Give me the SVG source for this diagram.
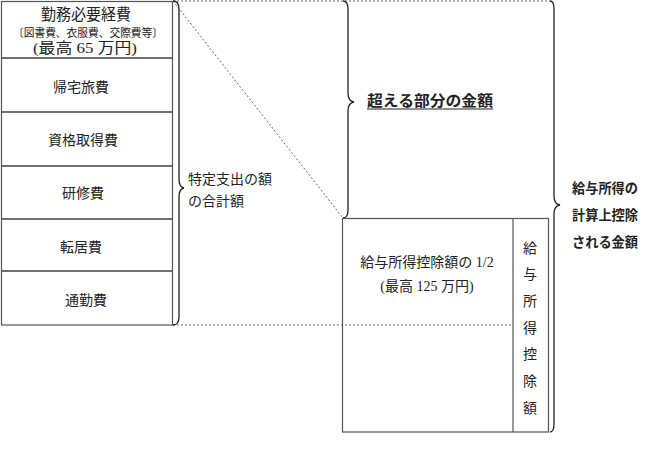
<svg xmlns="http://www.w3.org/2000/svg" width="659" height="460" viewBox="0 0 659 460">
<style>
text{font-family:"Liberation Serif","Noto Sans CJK JP",serif;fill:#222;}
.box{fill:none;stroke:#555;stroke-width:1.2;}
.dot{fill:none;stroke:#666;stroke-width:1;stroke-dasharray:2,2;}
.brace{fill:none;stroke:#222;stroke-width:1.3;}
.c{text-anchor:middle;}
</style>
<rect width="659" height="460" fill="#fff"/>
<g id="connectors">
<line class="dot" x1="173" y1="1" x2="550" y2="1"/>
<line class="dot" x1="173" y1="1" x2="343" y2="218"/>
<line class="dot" x1="173" y1="325" x2="513" y2="325"/>
<path class="brace" d="M173,1 q6,0 6,8 v170 q0,8 5,9 q-5,1 -5,9 v120 q0,8 -6,8"/>
<path class="brace" d="M343,1 q5,0 5,8 v84 q0,8 6,9 q-6,1 -6,9 v99 q0,8 -5,8"/>
<path class="brace" d="M550,1 q4,0 4,8 v187 q0,8 6,9 q-6,1 -6,9 v210 q0,8 -4,8"/>
</g>
<g id="n-kinmu">
<rect class="box" x="1.5" y="1.5" width="171" height="56.5"/>
<text class="c" x="86" y="20" font-size="15.5" textLength="90" lengthAdjust="spacingAndGlyphs">勤務必要経費</text>
<text class="c" x="88" y="37" font-size="11" textLength="150" lengthAdjust="spacingAndGlyphs">〔図書費、衣服費、交際費等〕</text>
<text class="c" x="85" y="53" font-size="14.5" textLength="104" lengthAdjust="spacingAndGlyphs">(最高 65 万円)</text>
</g>
<g id="n-kitaku">
<rect class="box" x="1.5" y="58" width="171" height="54"/>
<text class="c" x="81" y="92" font-size="14">帰宅旅費</text>
</g>
<g id="n-shikaku">
<rect class="box" x="1.5" y="112" width="171" height="54"/>
<text class="c" x="83" y="145" font-size="14">資格取得費</text>
</g>
<g id="n-kenshu">
<rect class="box" x="1.5" y="166" width="171" height="53"/>
<text class="c" x="83" y="198" font-size="14">研修費</text>
</g>
<g id="n-tenkyo">
<rect class="box" x="1.5" y="219" width="171" height="52"/>
<text class="c" x="81" y="252" font-size="14">転居費</text>
</g>
<g id="n-tsukin">
<rect class="box" x="1.5" y="271" width="171" height="54"/>
<text class="c" x="86" y="305" font-size="14">通勤費</text>
</g>
<g id="n-tokutei">
<text x="188" y="184" font-size="14">特定支出の額</text>
<text x="188" y="206" font-size="14">の合計額</text>
</g>
<g id="n-koeru">
<text x="367" y="106" font-size="15" font-weight="bold" textLength="126" lengthAdjust="spacingAndGlyphs">超える部分の金額</text>
<line x1="367" y1="109" x2="493" y2="109" stroke="#222" stroke-width="1"/>
</g>
<g id="n-kyuyo">
<rect class="box" x="342.5" y="218.5" width="206" height="213.5"/>
<line class="box" x1="513" y1="218.5" x2="513" y2="432"/>
<text class="c" x="427" y="267" font-size="14">給与所得控除額の 1/2</text>
<text class="c" x="427" y="291" font-size="14">(最高 125 万円)</text>
</g>
<g id="n-kojo">
<text class="c" x="530" y="253" font-size="14">給</text>
<text class="c" x="530" y="279" font-size="14">与</text>
<text class="c" x="530" y="306" font-size="14">所</text>
<text class="c" x="530" y="333" font-size="14">得</text>
<text class="c" x="530" y="359" font-size="14">控</text>
<text class="c" x="530" y="386" font-size="14">除</text>
<text class="c" x="530" y="413" font-size="14">額</text>
</g>
<g id="n-keisan">
<text x="572" y="193" font-size="13.5" font-weight="bold" textLength="66" lengthAdjust="spacingAndGlyphs">給与所得の</text>
<text x="572" y="220" font-size="13.5" font-weight="bold" textLength="66" lengthAdjust="spacingAndGlyphs">計算上控除</text>
<text x="572" y="247" font-size="13.5" font-weight="bold" textLength="66" lengthAdjust="spacingAndGlyphs">される金額</text>
</g>
</svg>
